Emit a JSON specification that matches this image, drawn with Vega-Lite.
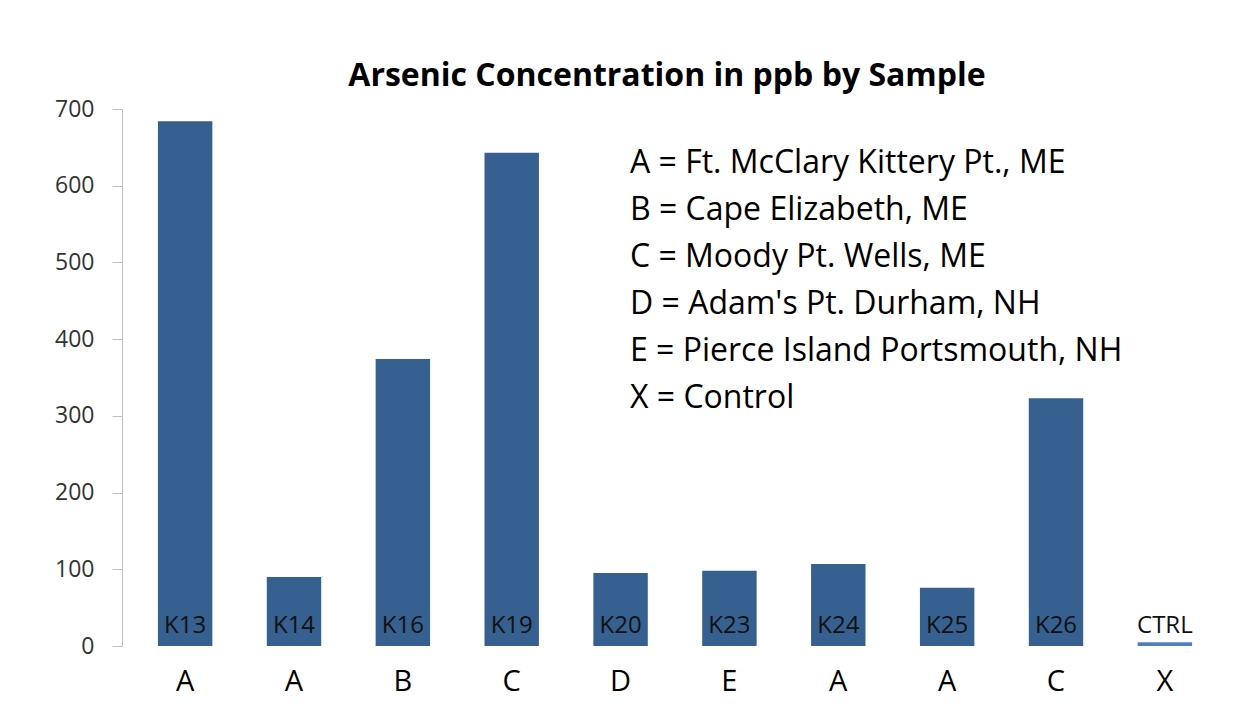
{
  "$schema": "https://vega.github.io/schema/vega-lite/v6.json",
  "autosize": {"type": "none"},
  "width": 1106,
  "height": 537,
  "padding": {"left": 122, "top": 109, "right": 24, "bottom": 67},
  "background": "white",
  "config": {"view": {"stroke": null}, "font": "Open Sans"},
  "title": {
    "text": "Arsenic Concentration in ppb by Sample",
    "fontSize": 32,
    "fontWeight": "bold",
    "font": "Open Sans",
    "color": "#000000",
    "anchor": "middle",
    "dx": -8,
    "offset": 5
  },
  "data": {
    "values": [
      {"sample": "K13", "site": "A", "ppb": 684},
      {"sample": "K14", "site": "A", "ppb": 90},
      {"sample": "K16", "site": "B", "ppb": 374},
      {"sample": "K19", "site": "C", "ppb": 643},
      {"sample": "K20", "site": "D", "ppb": 95},
      {"sample": "K23", "site": "E", "ppb": 98},
      {"sample": "K24", "site": "A", "ppb": 107},
      {"sample": "K25", "site": "A", "ppb": 76},
      {"sample": "K26", "site": "C", "ppb": 323},
      {"sample": "CTRL", "site": "X", "ppb": 5}
    ]
  },
  "encoding": {
    "x": {
      "field": "sample",
      "type": "nominal",
      "sort": null,
      "scale": {"paddingInner": 0.5, "paddingOuter": 0.33},
      "axis": {
        "title": null,
        "domain": false,
        "ticks": false,
        "labelAngle": 0,
        "labelFontSize": 29,
        "labelColor": "#000000",
        "labelPadding": 21,
        "labelExpr": "{'K13':'A','K14':'A','K16':'B','K19':'C','K20':'D','K23':'E','K24':'A','K25':'A','K26':'C','CTRL':'X'}[datum.value]"
      }
    }
  },
  "layer": [
    {
      "mark": {"type": "bar"},
      "encoding": {
        "y": {
          "field": "ppb",
          "type": "quantitative",
          "scale": {"domain": [0, 700]},
          "axis": {
            "title": null,
            "values": [0, 100, 200, 300, 400, 500, 600, 700],
            "grid": false,
            "domainColor": "#c0c0c0",
            "tickColor": "#c0c0c0",
            "tickSize": 10,
            "labelFontSize": 23,
            "labelColor": "#333333",
            "labelPadding": 18
          }
        },
        "color": {
          "field": "site",
          "type": "nominal",
          "scale": {"domain": ["A", "B", "C", "D", "E", "X"], "range": ["#36608f", "#36608f", "#36608f", "#36608f", "#36608f", "#4f81bd"]},
          "legend": {
            "orient": "none",
            "legendX": 476,
            "legendY": 38,
            "title": null,
            "symbolSize": 0,
            "symbolOpacity": 0,
            "symbolStrokeWidth": 0,
            "labelOffset": 0,
            "labelFontSize": 32,
            "labelColor": "#000000",
            "labelLimit": 0,
            "rowPadding": 15,
            "labelExpr": "{'A':'A = Ft. McClary Kittery Pt., ME','B':'B = Cape Elizabeth, ME','C':'C = Moody Pt. Wells, ME','D':'D = Adam\\'s Pt. Durham, NH','E':'E = Pierce Island Portsmouth, NH','X':'X = Control'}[datum.value]"
          }
        }
      }
    },
    {
      "mark": {"type": "text", "baseline": "bottom", "dy": -8, "fontSize": 24, "color": "#111111"},
      "encoding": {
        "y": {"datum": 0, "type": "quantitative"},
        "text": {"field": "sample"}
      }
    }
  ]
}
